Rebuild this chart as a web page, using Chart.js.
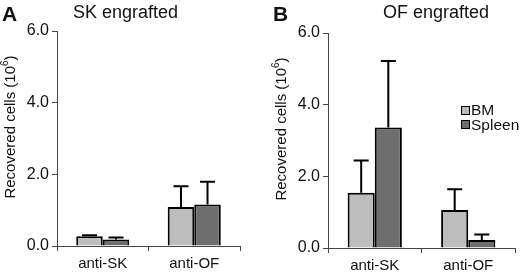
<!DOCTYPE html>
<html>
<head>
<meta charset="utf-8">
<script src="https://cdn.jsdelivr.net/npm/chart.js@4"></script>
<style>
  body { margin: 0; background: #fff; font-family: "Liberation Sans", Arial, sans-serif; color: #111; }
  #wrap { position: relative; width: 520px; height: 276px; overflow: hidden; }
  canvas { position: absolute; top: 0; }
  .lbl { position: absolute; font-weight: bold; font-size: 21px; line-height: 1; }
  .ttl { position: absolute; font-size: 18px; line-height: 1; white-space: nowrap; }
  .leg { position: absolute; font-size: 15.5px; line-height: 14px; }
  .leg div { display: flex; align-items: center; height: 14.5px; }
  .leg span.box { display: inline-block; width: 7px; height: 7px; border: 1.5px solid #000; margin-right: 1px; }
</style>
</head>
<body>
<div id="wrap">
  <canvas id="chartA" width="260" height="276" style="left:0"></canvas>
  <canvas id="chartB" width="260" height="276" style="left:260px"></canvas>
  <div class="lbl" style="left:2px;top:3px">A</div>
  <div class="ttl" style="left:73px;top:3px">SK engrafted</div>
  <div class="lbl" style="left:273px;top:3px">B</div>
  <div class="ttl" style="left:383px;top:3px">OF engrafted</div>
  <div class="leg" style="left:461px;top:103px">
    <div><span class="box" style="background:#bdbdbd"></span>BM</div>
    <div><span class="box" style="background:#6e6e6e"></span>Spleen</div>
  </div>
</div>
<script>
const categories = ['anti-SK', 'anti-OF'];
const seriesNames = ['BM', 'Spleen'];
const yTicks = [0, 2, 4, 6];

// SK engrafted
const skBM = [0.27, 1.09];
const skBMErr = [0.03, 0.58];
const skSpleen = [0.18, 1.16];
const skSpleenErr = [0.06, 0.63];

// OF engrafted
const ofBM = [1.54, 1.06];
const ofBMErr = [0.90, 0.58];
const ofSpleen = [3.36, 0.22];
const ofSpleenErr = [1.86, 0.16];

const colors = ['#bdbdbd', '#6e6e6e'];
const axisColor = '#444';
const fam = '"Liberation Sans", Arial, sans-serif';

// draws upper error bars over each bar
const errorBars = {
  id: 'errorBars',
  afterDatasetsDraw(chart) {
    const ctx = chart.ctx;
    const y = chart.scales.y;
    chart.data.datasets.forEach((ds, i) => {
      const meta = chart.getDatasetMeta(i);
      meta.data.forEach((bar, j) => {
        const top = y.getPixelForValue(ds.data[j] + ds.err[j]);
        ctx.save();
        ctx.strokeStyle = '#000';
        ctx.lineWidth = 2;
        ctx.beginPath();
        ctx.moveTo(bar.x, bar.y);
        ctx.lineTo(bar.x, top);
        ctx.moveTo(bar.x - 7.5, top);
        ctx.lineTo(bar.x + 7.5, top);
        ctx.stroke();
        ctx.restore();
      });
    });
  }
};

// y axis title with a raised exponent
const yTitle = {
  id: 'yTitle',
  afterDraw(chart, args, o) {
    const ctx = chart.ctx;
    const parts = [['Recovered cells (10', 15, 0], ['6', 10, -6], [')', 15, 0]];
    ctx.save();
    ctx.translate(o.x, o.y);
    ctx.rotate(-Math.PI / 2);
    ctx.fillStyle = '#111';
    ctx.textBaseline = 'middle';
    let total = 0;
    parts.forEach(p => { ctx.font = p[1] + 'px ' + fam; total += ctx.measureText(p[0]).width; });
    let x = -total / 2;
    parts.forEach(p => {
      ctx.font = p[1] + 'px ' + fam;
      ctx.fillText(p[0], x, p[2]);
      x += ctx.measureText(p[0]).width;
    });
    ctx.restore();
  }
};

function makeChart(id, bm, bmErr, spleen, spleenErr, opt) {
  const ctx = document.getElementById(id).getContext('2d');
  return new Chart(ctx, {
    type: 'bar',
    data: {
      labels: categories,
      datasets: [
        { label: seriesNames[0], data: bm, err: bmErr, backgroundColor: colors[0] },
        { label: seriesNames[1], data: spleen, err: spleenErr, backgroundColor: colors[1] }
      ]
    },
    options: {
      responsive: false,
      animation: false,
      devicePixelRatio: 1,
      layout: { padding: { top: opt.top, right: opt.right, left: 0, bottom: 0 } },
      datasets: {
        bar: {
          borderColor: '#000',
          borderWidth: 2,
          categoryPercentage: 0.58,
          barPercentage: 1.0
        }
      },
      plugins: {
        legend: { display: false },
        tooltip: { enabled: false },
        yTitle: { x: opt.tx, y: opt.ty }
      },
      scales: {
        x: {
          offset: true,
          grid: { offset: true, drawOnChartArea: false, drawTicks: true, tickLength: 5, color: axisColor },
          border: { display: true, color: axisColor, width: 1 },
          ticks: { color: '#111', font: { family: fam, size: 15 }, padding: 4, maxRotation: 0 },
          afterFit: s => { s.height = opt.xh; }
        },
        y: {
          min: 0,
          max: 6,
          afterBuildTicks: s => { s.ticks = yTicks.map(v => ({ value: v })); },
          grid: { drawOnChartArea: false, drawTicks: true, tickLength: 5, color: axisColor },
          border: { display: true, color: axisColor, width: 1 },
          ticks: { color: '#111', font: { family: fam, size: 16 }, padding: 3, callback: v => v.toFixed(1) },
          afterFit: s => { s.width = opt.yw; }
        }
      }
    },
    plugins: [errorBars, yTitle]
  });
}

makeChart('chartA', skBM, skBMErr, skSpleen, skSpleenErr, { top: 31, right: 20, xh: 30, yw: 57, tx: 11, ty: 127 });
makeChart('chartB', ofBM, ofBMErr, ofSpleen, ofSpleenErr, { top: 33, right: 5, xh: 28, yw: 68, tx: 22, ty: 129 });
</script>
</body>
</html>
